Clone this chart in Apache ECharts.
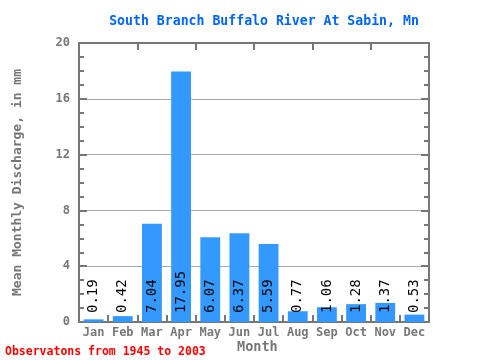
<!DOCTYPE html>
<html><head><meta charset="utf-8">
<script src="https://cdn.jsdelivr.net/npm/echarts@6/dist/echarts.min.js"></script>
<style>html,body{margin:0;padding:0;background:#fff}#c{width:480px;height:360px}</style>
</head><body><div id="c"></div>
<script>
const months = ['Jan','Feb','Mar','Apr','May','Jun','Jul','Aug','Sep','Oct','Nov','Dec'];
const discharge = [0.19,0.42,7.04,17.95,6.07,6.37,5.59,0.77,1.06,1.28,1.37,0.53];
const yTicks = [0,4,8,12,16,20];
const titleText = 'South Branch Buffalo River At Sabin, Mn';
const yName = 'Mean Monthly Discharge, in mm';
const xName = 'Month';
const footer = 'Observatons from 1945 to 2003';

const FONT = '"DejaVu Sans Mono", "Liberation Mono", monospace';
const AX = '#777777';
const chart = echarts.init(document.getElementById('c'), null, {renderer:'canvas'});
const yBase = {
  type:'value', min:yTicks[0], max:yTicks[yTicks.length-1], interval:4,
  axisLine:{show:true, lineStyle:{color:AX, width:2}},
  axisTick:{show:true, inside:true, length:8, lineStyle:{color:AX, width:2}},
  minorTick:{show:true, splitNumber:4, length:5, lineStyle:{color:AX, width:2}},
};
chart.setOption({
  animation:false,
  title:{text:titleText, left:259, top:10, textAlign:'center',
    textStyle:{color:'#0066ff', fontFamily:FONT, fontSize:13.2, fontWeight:'bold'}},
  graphic:[
    {type:'text', left:5, top:346, style:{text:footer, fill:'#ff0000', font:'bold 11.5px ' + FONT}},
    {type:'text', left:237, top:340, style:{text:xName, fill:'#777777', font:'bold 13.5px ' + FONT}}
  ],
  grid:{left:79, right:51, top:43, bottom:38},
  xAxis:[
    {type:'category', data:months, position:'bottom',
     axisLine:{onZero:false, lineStyle:{color:AX, width:2}},
     axisTick:{show:true, inside:true, length:7, lineStyle:{color:AX, width:2}},
     axisLabel:{color:'#777', fontFamily:FONT, fontSize:12, fontWeight:'bold', margin:5}},
    {type:'category', data:months, position:'top',
     axisLine:{onZero:false, lineStyle:{color:AX, width:2}},
     axisTick:{show:true, inside:true, length:7, lineStyle:{color:AX, width:2}},
     axisLabel:{show:false}}
  ],
  yAxis:[
    Object.assign({}, yBase, {position:'left',
      name:yName, nameLocation:'middle', nameGap:55,
      nameTextStyle:{color:'#777', fontFamily:FONT, fontSize:13, fontWeight:'bold'},
      axisLabel:{color:'#777', fontFamily:FONT, fontSize:12, fontWeight:'bold', margin:9},
      splitLine:{show:true, lineStyle:{color:'#aaaaaa', width:1}}}),
    Object.assign({}, yBase, {position:'right', axisLabel:{show:false}, splitLine:{show:false}})
  ],
  series:[{
    type:'bar', data:discharge, barWidth:'68%', xAxisIndex:0, yAxisIndex:0,
    itemStyle:{color:'#3399ff'},
    label:{show:true, position:'insideBottom', rotate:90, align:'left', verticalAlign:'middle',
      distance:9, color:'#000', fontFamily:FONT, fontSize:14,
      formatter:p => p.value.toFixed(2)}
  }]
});
</script></body></html>
